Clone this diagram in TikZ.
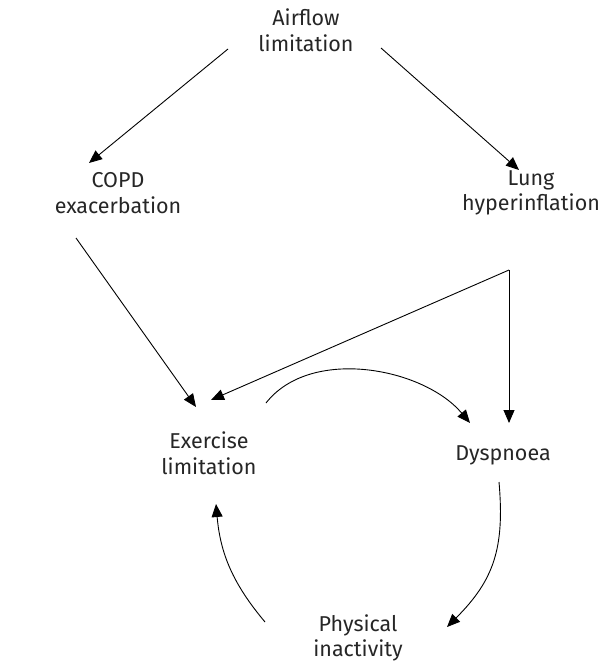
\documentclass[tikz,border=0pt]{standalone}
\usepackage{fontspec}
\setmainfont{Fira Sans}
\usetikzlibrary{arrows.meta}
\usetikzlibrary{positioning}

\begin{document}
\begin{tikzpicture}[->,>={Triangle[length=13pt,width=11pt]},x=1pt,y=-1pt,
  line width=0.9pt,main node/.style={text=black!85,align=center,inner sep=0pt,
  font=\fontsize{21.5}{25.5}\selectfont}]
  \useasboundingbox (0,0) rectangle (608,663);

  \node[main node] (1) at (306,30) {Airflow\\limitation};
  \node[main node] (2) at (118,193) {COPD\\exacerbation};
  \node[main node] (3) at (531,193) {Lung\\hyperinflation};
  \node[main node] (4) at (209,453) {Exercise\\limitation};
  \node[main node] (5) at (503,455) {Dyspnoea};
  \node[main node] (6) at (358,638) {Physical\\inactivity};
  \coordinate (split) at ([shift={(-22,77)}]3.center);

  \path
    ([shift={(-78,19)}]1.center) edge ([shift={(-29,-30)}]2.center)
    ([shift={(75,18)}]1.center) edge ([shift={(-12,-23)}]3.center)
    ([shift={(-42,45)}]2.center) edge ([shift={(-13,-46)}]4.center)
    (split) edge ([shift={(2,-53)}]4.center)
    (split) edge ([shift={(6,-32)}]5.center)
    ([shift={(57,-50)}]4.center) edge[out=52,in=130,looseness=0.9] ([shift={(-33,-32)}]5.center)
    ([shift={(-4,27)}]5.center) edge[out=-85,in=45,looseness=1.1] ([shift={(89,-11)}]6.center)
    ([shift={(-93,-16)}]6.center) edge[out=130,in=-85] ([shift={(7,51)}]4.center);
\end{tikzpicture}
\end{document}
